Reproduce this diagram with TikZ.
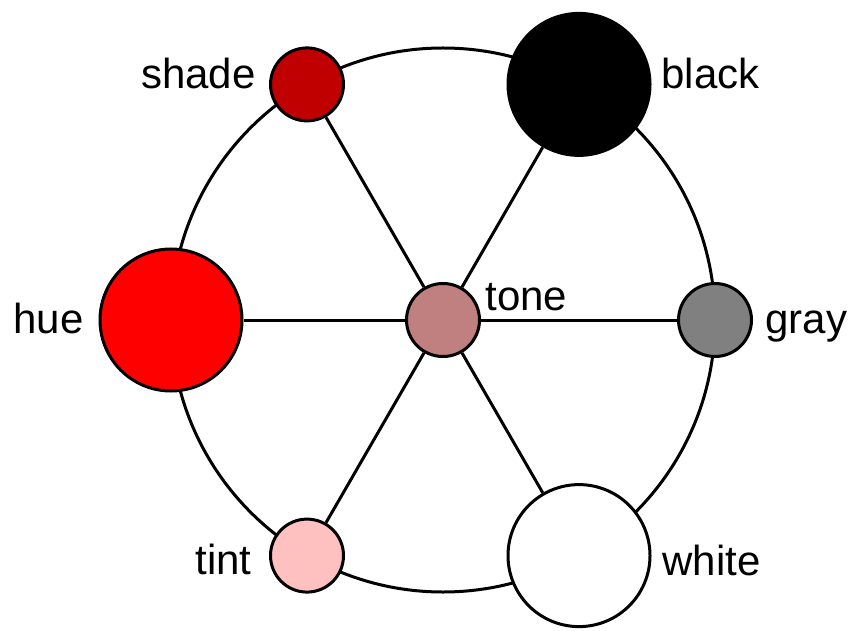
\documentclass[tikz,border=0pt]{standalone}
\usepackage{fontspec}
\setmainfont{Liberation Sans}
\definecolor{shadec}{RGB}{192,0,0}
\definecolor{tintc}{RGB}{255,192,192}
\definecolor{tonec}{RGB}{192,128,128}
\definecolor{grayc}{RGB}{128,128,128}
\begin{document}
\begin{tikzpicture}[x=1pt,y=1pt,line width=3pt,
  dot/.style={circle,draw=black,inner sep=0pt,minimum size=#1},
  lbl/.style={font=\fontsize{42}{50}\selectfont,inner sep=0pt}]
\useasboundingbox (0,0) rectangle (853,630);
\coordinate (c) at (443,310);
\draw (c) circle (272);
\node[dot=142,fill=red] (hue) at (171,310) {};
\node[dot=142,fill=black] (black) at (579,545.6) {};
\node[dot=142,fill=white] (white) at (579,74.4) {};
\node[dot=73,fill=shadec] (shade) at (307,545.6) {};
\node[dot=73,fill=tintc] (tint) at (307,74.4) {};
\node[dot=73,fill=grayc] (gray) at (715,310) {};
\node[dot=73,fill=tonec] (tone) at (c) {};
\foreach \n in {hue,black,white,shade,tint,gray}
  \draw (tone) -- (\n);
\node[lbl,anchor=base east] (lhue) at (85,297) {hue};
\node[lbl,anchor=base east] (lshade) at (257,541) {shade};
\node[lbl,anchor=base east] (ltint) at (253,56) {tint};
\node[lbl,anchor=base west] (lblack) at (660,541) {black};
\node[lbl,anchor=base west] (lgray) at (764,297) {gray};
\node[lbl,anchor=base west] (lwhite) at (661,55) {white};
\node[lbl,anchor=base west] (ltone) at (484,320) {tone};
\end{tikzpicture}
\end{document}
